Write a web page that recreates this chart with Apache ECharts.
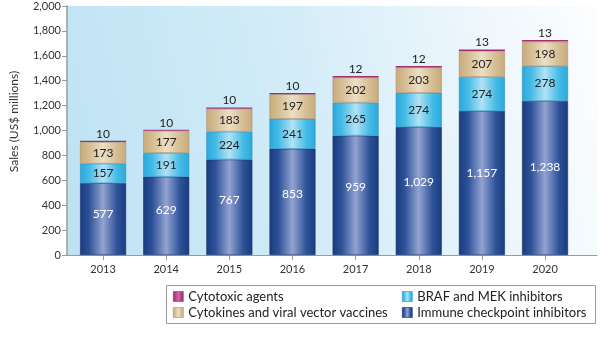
<!DOCTYPE html>
<html>
<head>
<meta charset="utf-8">
<script src="https://cdn.jsdelivr.net/npm/echarts@6/dist/echarts.min.js"></script>
<style>
  html, body { margin: 0; padding: 0; background: #fff; }
  #chart { width: 600px; height: 337px; }
</style>
</head>
<body>
<div id="chart"></div>
<script>
var years = ['2013', '2014', '2015', '2016', '2017', '2018', '2019', '2020'];
var immune = [577, 629, 767, 853, 959, 1029, 1157, 1238];
var braf = [157, 191, 224, 241, 265, 274, 274, 278];
var cytokines = [173, 177, 183, 197, 202, 203, 207, 198];
var cytotoxic = [10, 10, 10, 10, 12, 12, 13, 13];

var FONT = 'Lato';

function barGrad(edge, mid, center) {
  return {
    type: 'linear', x: 0, y: 0, x2: 1, y2: 0,
    colorStops: [
      { offset: 0, color: edge },
      { offset: 0.2, color: mid },
      { offset: 0.5, color: center },
      { offset: 0.8, color: mid },
      { offset: 1, color: edge }
    ]
  };
}

var chart = echarts.init(document.getElementById('chart'), null, { renderer: 'canvas' });

var common = {
  type: 'bar',
  stack: 'total',
  barWidth: 46,
  xAxisIndex: 1,
  yAxisIndex: 1,
  emphasis: { disabled: true }
};

var legendCommon = {
  orient: 'vertical', top: 290, padding: 0,
  itemWidth: 10, itemHeight: 10, itemGap: 3,
  icon: 'rect',
  itemStyle: { borderWidth: 0.6 },
  textStyle: { color: '#222', fontSize: 13, fontFamily: FONT, padding: [0, 0, 0, 0] },
  selectedMode: false
};

var option = {
  animation: false,
  backgroundColor: '#ffffff',
  textStyle: { fontFamily: FONT },
  grid: [
    {
      left: 58, right: 3, top: 6, bottom: 82,
      show: true, borderWidth: 0,
      backgroundColor: {
        type: 'linear', x: 0, y: 0.7, x2: 1, y2: 0.2,
        colorStops: [
          { offset: 0, color: '#bfe3f4' },
          { offset: 0.45, color: '#d3ecf8' },
          { offset: 0.8, color: '#eef7fc' },
          { offset: 1, color: '#fbfdff' }
        ]
      }
    },
    { left: 71.5, right: 23.4, top: 6, bottom: 82 }
  ],
  xAxis: [
    {
      gridIndex: 0, type: 'value', min: 0, max: 1,
      splitLine: { show: false },
      axisLine: { show: true, onZero: false, lineStyle: { color: '#9a9a9a', width: 1 } },
      axisTick: { show: false },
      axisLabel: { show: false }
    },
    {
      gridIndex: 1, type: 'category', data: years,
      axisLine: { show: false },
      axisTick: { show: true, alignWithLabel: true, length: 5, lineStyle: { color: '#9a9a9a' } },
      axisLabel: { color: '#333', fontSize: 11, fontFamily: FONT, margin: 9 }
    }
  ],
  yAxis: [
    {
      gridIndex: 0, type: 'value',
      min: 0, max: 2000, interval: 200,
      name: 'Sales (US$ millions)',
      nameLocation: 'middle',
      nameRotate: 90,
      nameGap: 47,
      nameTextStyle: { color: '#333', fontSize: 12, fontFamily: FONT, padding: [0, 0, 0, 18] },
      splitLine: { show: false },
      axisLine: { show: true, lineStyle: { color: '#9a9a9a', width: 1.5 } },
      axisTick: { show: true, inside: false, length: 5, lineStyle: { color: '#9a9a9a' } },
      axisLabel: { color: '#333', fontSize: 11, fontFamily: FONT, margin: 6 }
    },
    {
      gridIndex: 1, type: 'value',
      min: 0, max: 2000, interval: 200,
      show: false,
      splitLine: { show: false }
    }
  ],
  legend: [
    Object.assign({}, legendCommon, {
      left: 173,
      data: ['Cytotoxic agents', 'Cytokines and viral vector vaccines']
    }),
    Object.assign({}, legendCommon, {
      left: 402,
      data: ['BRAF and MEK inhibitors', 'Immune checkpoint inhibitors']
    })
  ],
  graphic: [
    {
      type: 'rect', left: 166, top: 285, z: -1,
      shape: { width: 429, height: 38 },
      style: { fill: '#ffffff', stroke: '#9a9a9a', lineWidth: 1 }
    }
  ],
  series: [
    Object.assign({}, common, {
      name: 'Immune checkpoint inhibitors',
      data: immune,
      itemStyle: { color: barGrad('#1a3b7e', '#2e5299', '#93a3d1'), borderColor: '#163266', borderWidth: 0.6 },
      label: {
        show: true, position: ['50%', '43%'], align: 'center', verticalAlign: 'middle',
        color: '#ffffff', fontSize: 12, fontFamily: FONT, textBorderWidth: 0,
        formatter: function (p) { return p.value.toLocaleString('en-US'); }
      }
    }),
    Object.assign({}, common, {
      name: 'BRAF and MEK inhibitors',
      data: braf,
      itemStyle: { color: barGrad('#2aa9dc', '#45bbe6', '#b2e2f5'), borderColor: '#2a8fbf', borderWidth: 0.6 },
      label: {
        show: true, position: 'inside', color: '#222', fontSize: 12, fontFamily: FONT, textBorderWidth: 0
      }
    }),
    Object.assign({}, common, {
      name: 'Cytokines and viral vector vaccines',
      data: cytokines,
      itemStyle: { color: barGrad('#c8ab7c', '#d5bd93', '#ecdfc4'), borderColor: '#a98f66', borderWidth: 0.6 },
      label: {
        show: true, position: 'inside', color: '#222', fontSize: 12, fontFamily: FONT, textBorderWidth: 0
      }
    }),
    Object.assign({}, common, {
      name: 'Cytotoxic agents',
      data: cytotoxic,
      itemStyle: { color: barGrad('#9c2a72', '#b33b87', '#d468a8'), borderColor: '#a32d77', borderWidth: 1.2 },
      label: {
        show: true, position: 'top', distance: 1, color: '#222', fontSize: 12, fontFamily: FONT, textBorderWidth: 0
      }
    })
  ]
};

chart.setOption(option);
</script>
</body>
</html>
